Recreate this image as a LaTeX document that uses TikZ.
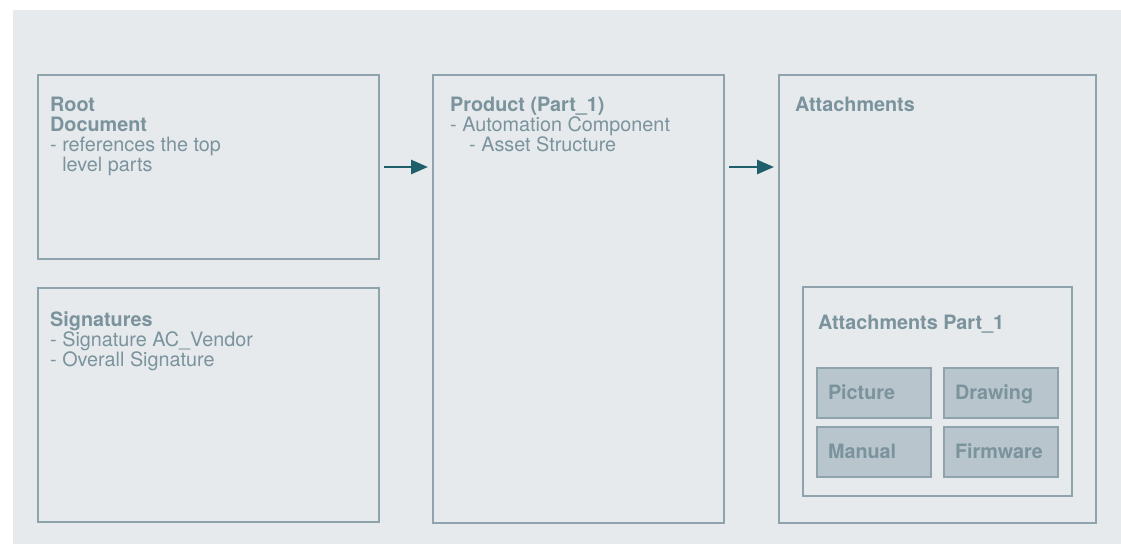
\documentclass[tikz,border=0pt]{standalone}
\usepackage{fontspec}
\setmainfont{TeX Gyre Heros}
\usepackage{xcolor}
\usetikzlibrary{arrows.meta,positioning}

\definecolor{panelgrey}{HTML}{E6EAED}
\definecolor{framegrey}{HTML}{8FA3AC}
\definecolor{textgrey}{HTML}{7A939C}
\definecolor{tilegrey}{HTML}{B9C5CC}
\definecolor{arrowteal}{HTML}{1F5E6B}

\tikzset{
  frame/.style={draw=framegrey, line width=2.2pt, inner sep=0pt, outer sep=0pt},
  tile/.style={frame, fill=tilegrey, minimum width=114pt, minimum height=50pt,
    text width=92pt, inner xsep=11pt, align=left, text=textgrey,
    text height=13pt, text depth=0pt, font=\fontsize{19.8}{20}\selectfont\bfseries},
  boxtext/.style={text=textgrey, inner sep=0pt, anchor=base west, align=left,
    font=\fontsize{19.8}{20}\selectfont},
  flow/.style={draw=arrowteal, line width=2.6pt, -{Triangle[length=17pt,width=14pt]},
    shorten <=5pt, shorten >=5pt}
}

\begin{document}
\begin{tikzpicture}[x=1pt,y=-1pt]
	\useasboundingbox (0,0) rectangle (1121,544);
	\fill[panelgrey] (13,10) rectangle (1121,544);

	% outer boxes
	\node[frame, minimum width=341pt, minimum height=184pt] (root) at (208.5,167) {};
	\node[frame, minimum width=341pt, minimum height=234pt] (sig) at (208.5,405) {};
	\node[frame, minimum width=291pt, minimum height=448pt] (prod) at (578.5,299) {};
	\node[frame, minimum width=317pt, minimum height=448pt] (att) at (937.5,299) {};
	\node[frame, minimum width=269pt, minimum height=209pt] (attpart) at (937.5,391.5) {};

	% attachment tiles
	\node[tile] (pic) at (874,393) {Picture};
	\node[tile, right=13pt of pic] (drw) {Drawing};
	\node[tile, below=9pt of pic] (man) {Manual};
	\node[tile, right=13pt of man] (fw) {Firmware};

	% texts (base = last line)
	\node[boxtext] (roottxt) at (50,171) {\textbf{Root}\\\textbf{Document}\\- references the top\\\phantom{- }level parts};
	\node[boxtext] (sigtxt) at (50,366) {\textbf{Signatures}\\- Signature AC\_Vendor\\- Overall Signature};
	\node[boxtext] (prodtxt) at (450,151) {\textbf{Product (Part\_1)}\\- Automation Component\\\hspace{19pt}- Asset Structure};
	\node[boxtext] (atttxt) at (795,111) {\textbf{Attachments}};
	\node[boxtext] (attparttxt) at (818,329) {\textbf{Attachments Part\_1}};

	% arrows
	\draw[flow] (root.east) -- (root.east -| prod.west);
	\draw[flow] (root.east -| prod.east) -- (root.east -| att.west);
\end{tikzpicture}
\end{document}
